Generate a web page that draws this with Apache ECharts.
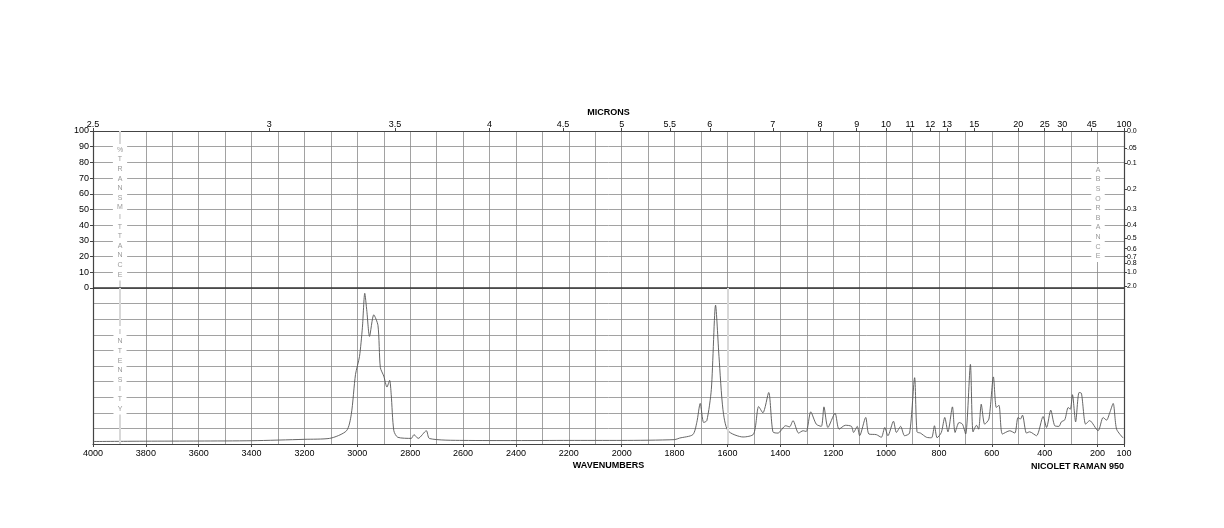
<!DOCTYPE html>
<html style="height: 100%">
<head>
<meta charset="utf-8">
<script src="https://cdn.jsdelivr.net/npm/echarts@6/dist/echarts.min.js"></script>
</head>
<body style="height: 100%; margin: 0; background: #fff">
<div id="container" style="width: 1224px; height: 528px"></div>
<script type="text/javascript">
// raman spectrum: wavenumber (cm-1) and intensity (0..100 of the lower panel)
var wavenumbers = [4000, 3800, 3600, 3400, 3200, 3105, 3041, 3023, 3007, 2992, 2981, 2972, 2964, 2954, 2938, 2922, 2913, 2900, 2888, 2878, 2872, 2862, 2847, 2796, 2786, 2770, 2739, 2727, 2600, 2400, 2200, 2000, 1800, 1781, 1731, 1716, 1703, 1690, 1678, 1661, 1645, 1632, 1617, 1598, 1541, 1501, 1482, 1466, 1444, 1428, 1409, 1380, 1365, 1352, 1331, 1314, 1302, 1285, 1264, 1245, 1235, 1220, 1193, 1178, 1154, 1131, 1123, 1109, 1100, 1077, 1065, 1037, 1018, 1005, 993, 972, 961, 945, 930, 911, 892, 883, 870, 847, 828, 817, 807, 791, 778, 766, 749, 739, 724, 711, 699, 681, 671, 658, 650, 640, 627, 611, 594, 583, 573, 560, 532, 513, 501, 492, 484, 469, 457, 431, 406, 393, 377, 362, 346, 337, 324, 311, 303, 295, 283, 270, 261, 245, 230, 198, 179, 166, 154, 141, 128, 103];
var intensity = [1.6, 1.8, 1.9, 2.1, 3.0, 3.6, 8.5, 19, 44.6, 56, 74.5, 96.6, 85, 69, 82.8, 76, 49, 43.5, 36.5, 40.8, 31.8, 8.5, 4.3, 3.6, 6, 3.6, 8.5, 3.5, 2.3, 2.2, 2.3, 2.3, 2.8, 3.8, 6, 13.8, 26, 13.8, 15, 35, 89, 56, 22, 8.5, 4.5, 6.4, 24, 20, 33, 7.8, 7, 11.7, 11, 15, 7, 8.5, 8, 20.6, 12.7, 11.3, 23.8, 10.6, 19.7, 9.5, 12, 11.3, 7.4, 11.3, 5.3, 17, 6.4, 6, 4.3, 10.6, 5.3, 14.6, 7.4, 11.3, 5.3, 7, 42.5, 7.8, 7, 4.3, 4, 11.7, 4, 7.4, 17, 7.8, 23.8, 7.4, 13.8, 12.7, 6.4, 51, 7.8, 12, 9.5, 25.5, 12.7, 16, 43, 23.4, 24.8, 6.4, 8.5, 7, 17, 16, 18.5, 7, 7.8, 5.3, 17.6, 10.6, 21.7, 11.7, 11.3, 14.2, 15.5, 23.4, 22.3, 31.6, 14.2, 33, 32.5, 12.7, 15, 8.5, 17, 15.3, 20, 26, 9.5, 3.8];

var wavenumberLabels = [4000, 3800, 3600, 3400, 3200, 3000, 2800, 2600, 2400, 2200, 2000, 1800, 1600, 1400, 1200, 1000, 800, 600, 400, 200, 100];
var micronLabels = [2.5, 3, 3.5, 4, 4.5, 5, 5.5, 6, 7, 8, 9, 10, 11, 12, 13, 15, 20, 25, 30, 45, 100];
var absorbanceLabels = ['0.0', '.05', '0.1', '0.2', '0.3', '0.4', '0.5', '0.6', '0.7', '0.8', '1.0', '2.0'];

var spectrum = wavenumbers.map(function (w, i) { return [w, intensity[i]]; });
var micronPos = micronLabels.map(function (m) { return 10000 / m; });
var absPos = absorbanceLabels.map(function (a) { return 100 * Math.pow(10, -parseFloat(a)); });

var dom = document.getElementById('container');
var myChart = echarts.init(dom);
var font = '"Liberation Sans", Arial, sans-serif';
var gridColor = '#8a8a8a';
var frameColor = '#444';
var nameStyle = { fontFamily: font, fontSize: 9, fontWeight: 'bold', color: '#000' };

// axes that only draw the 100 cm-1 grid
function gridAxis(gridIndex, position) {
    return {
        type: 'value', gridIndex: gridIndex, position: position, min: 100, max: 4000, inverse: true, interval: 100,
        axisLine: { show: true, onZero: false, lineStyle: { color: frameColor, width: 1.2 } },
        splitLine: { show: true, lineStyle: { color: gridColor, width: 0.8 } },
        axisTick: { show: false }, axisLabel: { show: false }
    };
}
// axes that only carry labels
function labelAxis(gridIndex, position, values, formatter, name, nameGap) {
    return {
        type: 'value', gridIndex: gridIndex, position: position, min: 100, max: 4000, inverse: true,
        axisLine: { show: false, onZero: false }, splitLine: { show: false },
        axisTick: { show: true, customValues: values, length: 3, lineStyle: { color: frameColor } },
        axisLabel: { show: true, customValues: values, fontFamily: font, fontSize: 9, color: '#000', margin: position === 'top' ? 2 : 5, formatter: formatter },
        name: name, nameLocation: 'middle', nameGap: nameGap, nameTextStyle: nameStyle
    };
}

var option = {
    animation: false,
    grid: [
        { left: 93, right: 100, top: 131, height: 157 },
        { left: 93, right: 100, top: 288, height: 156 }
    ],
    xAxis: [
        gridAxis(0, 'top'),
        gridAxis(1, 'bottom'),
        labelAxis(0, 'top', micronPos, function (v) { return String(Math.round(10000 / v * 10) / 10); }, 'MICRONS', 14),
        labelAxis(1, 'bottom', wavenumberLabels, function (v) { return String(v); }, 'WAVENUMBERS', 17)
    ],
    yAxis: [
        {
            type: 'value', gridIndex: 0, min: 0, max: 100, interval: 10,
            axisLine: { show: true, lineStyle: { color: frameColor, width: 1.2 } },
            axisTick: { show: true, length: 3, lineStyle: { color: frameColor } },
            splitLine: { show: true, lineStyle: { color: gridColor, width: 0.8 } },
            axisLabel: { fontFamily: font, fontSize: 9, color: '#000', margin: 4 }
        },
        {
            type: 'value', gridIndex: 0, min: 0, max: 100, position: 'right',
            axisLine: { show: true, lineStyle: { color: frameColor, width: 1.2 } },
            axisTick: { show: true, customValues: absPos, length: 3, lineStyle: { color: frameColor } },
            splitLine: { show: false },
            axisLabel: {
                customValues: absPos, fontFamily: font, fontSize: 7, color: '#000', margin: 3,
                formatter: function (v) {
                    for (var i = 0; i < absPos.length; i++) {
                        if (Math.abs(absPos[i] - v) < 0.01) return absorbanceLabels[i];
                    }
                    return '';
                }
            }
        },
        {
            type: 'value', gridIndex: 1, min: 0, max: 100, interval: 10,
            axisLine: { show: true, lineStyle: { color: frameColor, width: 1.2 } },
            axisTick: { show: false }, axisLabel: { show: false },
            splitLine: { show: true, lineStyle: { color: gridColor, width: 0.8 } }
        },
        {
            type: 'value', gridIndex: 1, min: 0, max: 100, position: 'right',
            axisLine: { show: true, lineStyle: { color: frameColor, width: 1.2 } },
            axisTick: { show: false }, axisLabel: { show: false }, splitLine: { show: false }
        }
    ],
    series: [
        {
            type: 'line', xAxisIndex: 0, yAxisIndex: 0, data: [], symbol: 'none',
            markLine: {
                silent: true, symbol: ['none', 'none'], label: { show: false },
                lineStyle: { color: '#d8d8d8', width: 2, type: 'solid' },
                data: [
                    { xAxis: 3900 },
                    { yAxis: 0, lineStyle: { color: '#333', width: 1.6 } }
                ]
            }
        },
        {
            type: 'line', xAxisIndex: 1, yAxisIndex: 2, data: spectrum, symbol: 'none', smooth: 0.25,
            lineStyle: { color: '#555', width: 0.9 },
            markLine: {
                silent: true, symbol: ['none', 'none'], label: { show: false },
                lineStyle: { color: '#d8d8d8', width: 2, type: 'solid' },
                data: [{ xAxis: 3900 }, { xAxis: 1600 }]
            }
        }
    ],
    graphic: [
        {
            type: 'text', x: 1124, y: 462, z: 100, style: {
                text: 'NICOLET RAMAN 950', font: 'bold 9px ' + font, fill: '#000', align: 'right'
            }
        },
        {
            type: 'text', x: 120, y: 144, z: 100, style: {
                text: '%\nT\nR\nA\nN\nS\nM\nI\nT\nT\nA\nN\nC\nE', font: '7px ' + font,
                fill: '#999', align: 'center', lineHeight: 9.6, backgroundColor: '#fff', padding: [1, 4]
            }
        },
        {
            type: 'text', x: 120, y: 326, z: 100, style: {
                text: 'I\nN\nT\nE\nN\nS\nI\nT\nY', font: '7px ' + font,
                fill: '#999', align: 'center', lineHeight: 9.6, backgroundColor: '#fff', padding: [1, 4]
            }
        },
        {
            type: 'text', x: 1098, y: 164, z: 100, style: {
                text: 'A\nB\nS\nO\nR\nB\nA\nN\nC\nE', font: '7px ' + font,
                fill: '#999', align: 'center', lineHeight: 9.6, backgroundColor: '#fff', padding: [1, 4]
            }
        }
    ]
};
myChart.setOption(option);
</script>
</body>
</html>
